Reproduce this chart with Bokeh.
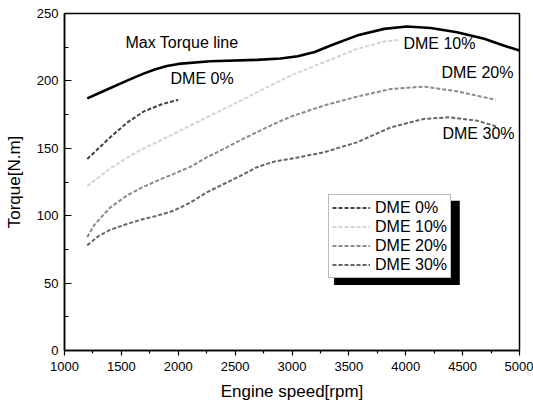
from bokeh.plotting import figure
from bokeh.models import Range1d, Label, Legend, LegendItem, BoxAnnotation, FixedTicker
from bokeh.embed import file_html
from bokeh.resources import INLINE

FONT = "Liberation Sans"

# Max torque line
max_rpm = [1200, 1350, 1550, 1700, 1800, 1900, 2000, 2280, 2690, 2900, 3050, 3200, 3340, 3570, 3810, 4010, 4220, 4450, 4690, 4860, 5000]
max_tq = [187, 192.7, 200.2, 205.6, 208.7, 211, 212.6, 214.6, 215.6, 216.6, 218.3, 221.5, 226.2, 233.6, 238.6, 240.3, 239.3, 236.1, 231.2, 226.2, 222.5]

dme0_rpm = [1200, 1300, 1400, 1550, 1700, 1850, 2000]
dme0_tq = [142, 150, 158, 169, 177.5, 182.5, 186]

dme10_rpm = [1200, 1400, 1550, 1670, 1960, 2250, 2550, 2720, 2990, 3280, 3570, 3810, 3950]
dme10_tq = [122, 135, 143, 148.8, 160.6, 173, 185.4, 192.8, 204, 213.8, 223.7, 229.2, 230.4]

dme20_rpm = [1200, 1260, 1400, 1550, 1670, 1815, 1960, 2110, 2250, 2400, 2550, 2690, 2840, 2990, 3280, 3570, 3870, 4160, 4450, 4790]
dme20_tq = [84, 93, 106, 115, 120.5, 126, 131, 136.4, 143.3, 149.5, 156.2, 161.9, 168, 173.5, 181.7, 188.3, 194, 195.8, 192.3, 186]

dme30_rpm = [1200, 1300, 1400, 1550, 1670, 1815, 1960, 2110, 2250, 2400, 2550, 2690, 2840, 2990, 3280, 3570, 3870, 4160, 4390, 4630, 4800]
dme30_tq = [78, 85, 89.5, 93.8, 97, 100, 103.7, 109.9, 117.3, 123.5, 129.7, 135.9, 140.1, 142.2, 147, 154.4, 165.6, 171.8, 173, 170.5, 166.1]

series_names = ["DME 0%", "DME 10%", "DME 20%", "DME 30%"]
series_colors = ["#444444", "#d4d4d4", "#8a8a8a", "#666666"]

x_ticks = [1000, 1500, 2000, 2500, 3000, 3500, 4000, 4500, 5000]
y_ticks = [0, 50, 100, 150, 200, 250]

p = figure(width=533, height=406, output_backend="svg", toolbar_location=None,
           x_range=Range1d(1000, 5000), y_range=Range1d(0, 250),
           min_border_left=64, min_border_right=14, min_border_top=13, min_border_bottom=56)
p.background_fill_color = "white"
p.border_fill_color = "white"
p.outline_line_color = "black"
p.outline_line_width = 1.5
p.grid.visible = False

p.xaxis.ticker = FixedTicker(ticks=x_ticks, minor_ticks=[1250 + 500 * i for i in range(8)])
p.yaxis.ticker = FixedTicker(ticks=y_ticks, minor_ticks=[25 + 50 * i for i in range(5)])

for ax in (p.xaxis[0], p.yaxis[0]):
    ax.axis_line_color = "black"
    ax.axis_line_width = 1.5
    ax.major_tick_line_color = "black"
    ax.minor_tick_line_color = "black"
    ax.major_tick_line_width = 1.2
    ax.minor_tick_line_width = 1.2
    ax.major_label_text_font = FONT
    ax.major_label_text_font_size = "13px"
    ax.major_label_text_color = "black"
    ax.axis_label_text_font = FONT
    ax.axis_label_text_font_style = "normal"
    ax.axis_label_text_font_size = "17px"
    ax.axis_label_text_color = "black"

p.xaxis.major_tick_out = 5
p.xaxis.major_tick_in = 0
p.xaxis.minor_tick_out = 3
p.xaxis.minor_tick_in = 0
p.xaxis.major_label_standoff = 6
p.xaxis.axis_label = "Engine speed[rpm]"
p.xaxis.axis_label_standoff = 8

p.yaxis.major_tick_out = 0
p.yaxis.major_tick_in = 7
p.yaxis.minor_tick_out = 0
p.yaxis.minor_tick_in = 4
p.yaxis.major_label_standoff = 6
p.yaxis.axis_label = "Torque[N.m]"
p.yaxis.axis_label_standoff = 10

p.line(max_rpm, max_tq, line_color="black", line_width=2.6, line_join="round")

data = [(dme0_rpm, dme0_tq), (dme10_rpm, dme10_tq), (dme20_rpm, dme20_tq), (dme30_rpm, dme30_tq)]
renderers = []
for (xs, ys), name, col in zip(data, series_names, series_colors):
    r = p.line(xs, ys, line_color=col, line_width=2, line_dash="4 2", line_join="round")
    renderers.append(r)

def add_text(txt, x, y):
    p.add_layout(Label(x=x, y=y, text=txt, text_font=FONT, text_font_size="16px",
                       text_color="black", text_baseline="middle", text_align="left"))

add_text("Max Torque line", 1536, 228.4)
add_text("DME 0%", 1932, 201.5)
add_text("DME 10%", 3980, 227.7)
add_text("DME 20%", 4314, 206)
add_text("DME 30%", 4323, 161)

# legend shadow
shadow = BoxAnnotation(left=3370, right=4475, top=111, bottom=48.5,
                       fill_color="black", fill_alpha=1.0, line_color=None)
p.add_layout(shadow)

legend = Legend(items=[LegendItem(label=n, renderers=[r]) for n, r in zip(series_names, renderers)],
                location=(264, 72), orientation="vertical",
                border_line_color="#777777", border_line_width=1,
                background_fill_color="white", background_fill_alpha=1.0,
                label_text_font=FONT, label_text_font_size="16px", label_text_color="black",
                glyph_width=38, glyph_height=19, label_height=19, label_standoff=5,
                spacing=0, padding=3, margin=0)
p.add_layout(legend, "center")

open("out.html", "w").write(file_html(p, INLINE))
